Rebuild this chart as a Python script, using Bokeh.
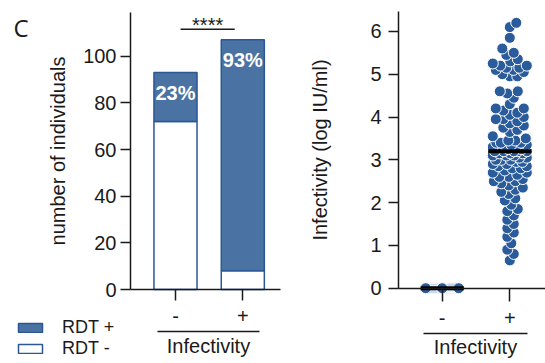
import numpy as np
from bokeh.plotting import figure
from bokeh.models import (Range1d, LinearAxis, FixedTicker, Label, Legend,
                          LegendItem, ColumnDataSource)
from bokeh.embed import file_html
from bokeh.resources import INLINE
from bokeh.core.properties import value

# ---------------- data ----------------
groups = ["-", "+"]                 # infectivity groups
rdt_neg = [72, 8]                   # RDT - counts
rdt_pos = [21, 99]                  # RDT + counts
sig_label = "****"
panel_letter = "C"

inf_neg = [0.0] * 93                # infectivity (log IU/ml), group "-"
inf_pos = [0.65, 0.8, 0.9, 1.05, 1.2, 1.3, 1.4, 1.5, 1.6, 1.7, 1.8, 1.85, 1.95,
           2.05, 2.1, 2.2, 2.25, 2.3, 2.35, 2.4, 2.45, 2.5, 2.5, 2.55, 2.6, 2.6,
           2.65, 2.7, 2.7, 2.75, 2.8, 2.8, 2.85, 2.85, 2.9, 2.9, 2.95, 2.95, 3.0,
           3.0, 3.0, 3.05, 3.05, 3.1, 3.1, 3.1, 3.15, 3.15, 3.15, 3.2, 3.2, 3.2,
           3.2, 3.2, 3.25, 3.25, 3.3, 3.3, 3.3, 3.35, 3.35, 3.35, 3.4, 3.4, 3.4,
           3.45, 3.45, 3.5, 3.55, 3.65, 3.7, 3.75, 3.8, 3.85, 3.9, 3.95, 3.95,
           4.0, 4.05, 4.1, 4.15, 4.2, 4.2, 4.3, 4.45, 4.55, 4.6, 4.6, 4.95, 4.95,
           5.0, 5.05, 5.1, 5.1, 5.15, 5.15, 5.2, 5.2, 5.25, 5.3, 5.35, 5.45, 5.5,
           5.6, 5.85, 6.1, 6.2]
y_ticks_left = [0, 20, 40, 60, 80, 100]
y_ticks_right = [0, 1, 2, 3, 4, 5, 6]

# ---------------- style / layout ----------------
FONT = "Liberation Sans"
BAR_FILL = "#4a72a3"
BAR_LINE = "#2b5797"
DOT_FILL = "#2a5b9b"
AX = "#1a1a1a"
W, H = 545, 363
xs = [1, 2]

# left panel scales (px positions of the canvas)
L_PXU_X, L_X1 = 67.3, 175.0        # px per group unit, px of group 1
L_PXU_Y, L_Y0 = 2.333, 289.0       # px per count, px of zero
L_AXIS_X, L_RIGHT = 130.0, 280.0
L_TOP = 118.7
# right panel scales
R_PXU_X, R_X1 = 67.6, 441.7
R_PXU_Y, R_Y0 = 42.8, 287.7
R_AXIS_X = 398.0
R_TOP = 6.47


def lx(px):
    return 1 + (px - L_X1) / L_PXU_X


def rx(px):
    return 1 + (px - R_X1) / R_PXU_X


p = figure(width=W, height=H,
           x_range=Range1d(lx(0), lx(W)),
           y_range=Range1d(-(H - L_Y0) / L_PXU_Y, L_Y0 / L_PXU_Y),
           x_axis_location=None, y_axis_location=None,
           output_backend="svg", toolbar_location=None,
           min_border_left=0, min_border_right=0, min_border_top=0, min_border_bottom=0)
p.extra_x_ranges = {"r": Range1d(rx(0), rx(W))}
p.extra_y_ranges = {"r": Range1d(-(H - R_Y0) / R_PXU_Y, R_Y0 / R_PXU_Y)}
p.outline_line_color = None
p.background_fill_color = None
p.border_fill_color = None
p.xgrid.visible = False
p.ygrid.visible = False


def common(ax):
    ax.major_label_text_font = FONT
    ax.major_label_text_font_size = "20px"
    ax.major_label_text_color = AX
    ax.axis_label_text_font = FONT
    ax.axis_label_text_font_size = "20px"
    ax.axis_label_text_font_style = "normal"
    ax.axis_label_text_color = AX
    ax.minor_tick_out = 0
    ax.minor_tick_in = 0
    ax.major_tick_in = 0
    ax.axis_line_width = 1.5
    ax.axis_line_color = AX
    ax.major_tick_line_width = 1.5
    ax.major_tick_line_color = AX
    return ax


def y_axis(ticks, label, loc, bounds, label_standoff, tick_standoff, rn=None):
    kw = dict(x_range_name=rn, y_range_name=rn) if rn else {}
    ax = common(LinearAxis(ticker=FixedTicker(ticks=ticks), axis_label=label,
                           fixed_location=loc, bounds=bounds, **kw))
    ax.major_tick_out = 10
    ax.major_label_standoff = tick_standoff
    ax.axis_label_standoff = label_standoff
    p.add_layout(ax, "left")


def x_axes(loc_under, bounds, under_bounds, tick_out, tick_standoff, label_standoff, rn=None):
    kw = dict(x_range_name=rn, y_range_name=rn) if rn else {}
    a1 = common(LinearAxis(ticker=FixedTicker(ticks=xs), fixed_location=0, bounds=bounds,
                           major_label_overrides={x: g for x, g in zip(xs, groups)}, **kw))
    a1.major_tick_out = tick_out
    a1.major_label_standoff = tick_standoff
    p.add_layout(a1, "below")
    a2 = common(LinearAxis(ticker=FixedTicker(ticks=[]), fixed_location=loc_under,
                           bounds=under_bounds, axis_label="Infectivity", **kw))
    a2.major_tick_out = 0
    a2.axis_label_standoff = label_standoff
    p.add_layout(a2, "below")


# ---------------- left panel ----------------
y_axis(y_ticks_left, "number of individuals", lx(L_AXIS_X), (0, L_TOP), 11, 4)
x_axes((L_Y0 - 330.7) / L_PXU_Y, (lx(L_AXIS_X), lx(L_RIGHT)), (lx(156.7), lx(259)),
       11, 8, 3)

totals = list(np.add(rdt_neg, rdt_pos))
src = ColumnDataSource(dict(x=xs, neg=rdt_neg, tot=totals,
                            pct=[f"{round(100 * pp / t)}%" for pp, t in zip(rdt_pos, totals)]))
r_neg = p.vbar(x="x", bottom=0, top="neg", width=0.64, source=src,
               fill_color="white", line_color=BAR_LINE, line_width=1.5)
r_pos = p.vbar(x="x", bottom="neg", top="tot", width=0.64, source=src,
               fill_color=BAR_FILL, line_color=BAR_LINE, line_width=1.5)
p.text(x="x", y="tot", text="pct", source=src, text_color="white",
       text_font=value(FONT), text_font_size="20px", text_font_style="bold",
       text_align="center", text_baseline="top", y_offset=9)

sig_y = max(totals) + 4.6
sx0, sx1 = xs[0] + 0.075, xs[1] - 0.12
p.segment(x0=[sx0], x1=[sx1], y0=[sig_y], y1=[sig_y], line_color=AX, line_width=1.5)
p.text(x=[(sx0 + sx1) / 2], y=[sig_y], text=[sig_label],
       text_font=value(FONT), text_font_size="20px", text_color=AX,
       text_align="center", text_baseline="alphabetic", y_offset=-4)

p.add_layout(Label(x=lx(13), y=(L_Y0 - 27) / L_PXU_Y, text=panel_letter,
                   text_font="Open Sans", text_font_size="24px", text_color=AX,
                   text_align="left", text_baseline="alphabetic"))

leg = Legend(items=[LegendItem(label="RDT +", renderers=[r_pos]),
                    LegendItem(label="RDT -", renderers=[r_neg])],
             location=(15, 4), orientation="vertical",
             glyph_width=30, glyph_height=11, label_standoff=17, spacing=0,
             padding=0, margin=0, border_line_color=None, background_fill_alpha=0,
             label_text_font=FONT, label_text_font_size="18px", label_height=18,
             label_text_color=AX)
p.add_layout(leg)

# ---------------- right panel ----------------


def swarm_offsets(vals, d=7.5, max_w=17.0):
    vals = np.asarray(vals, dtype=float)
    order = np.argsort(vals, kind="stable")
    steps = np.arange(0, max_w + 0.01, 0.5)
    cands = [0.0]
    for s in steps[1:]:
        cands += [s, -s]
    cands = np.array(cands)
    placed_y, placed_x = [], []
    offs = np.zeros(len(vals))
    for i in order:
        y = vals[i] * R_PXU_Y
        c = 0.0
        if placed_y:
            py = np.array(placed_y)
            px = np.array(placed_x)
            near = np.abs(py - y) < d
            if near.any():
                dy = (py[near] - y)[None, :]
                dx = cands[:, None] - px[near][None, :]
                dist = np.sqrt(dx ** 2 + dy ** 2).min(axis=1)
                ok = np.where(dist >= d)[0]
                c = cands[ok[0]] if len(ok) else cands[np.argmax(dist)]
        offs[i] = c
        placed_y.append(y)
        placed_x.append(c)
    return offs / R_PXU_X


y_axis(y_ticks_right, "Infectivity (log IU/ml)", rx(R_AXIS_X), (0, R_TOP), 36, 7, rn="r")
x_axes((R_Y0 - 333.3) / R_PXU_Y, (rx(R_AXIS_X), rx(W)), (rx(423), rx(527)),
       13, 10, 2, rn="r")

for g, vals in zip(xs, [inf_neg, inf_pos]):
    xo = g + swarm_offsets(vals)
    p.scatter(x=xo, y=vals, size=11, fill_color=DOT_FILL, line_color="white",
              line_width=1, x_range_name="r", y_range_name="r")
    med = float(np.median(vals))
    p.segment(x0=[g - 0.32], x1=[g + 0.32], y0=[med], y1=[med],
              line_color="black", line_width=4, x_range_name="r", y_range_name="r")

open("out.html", "w").write(file_html(p, INLINE))
